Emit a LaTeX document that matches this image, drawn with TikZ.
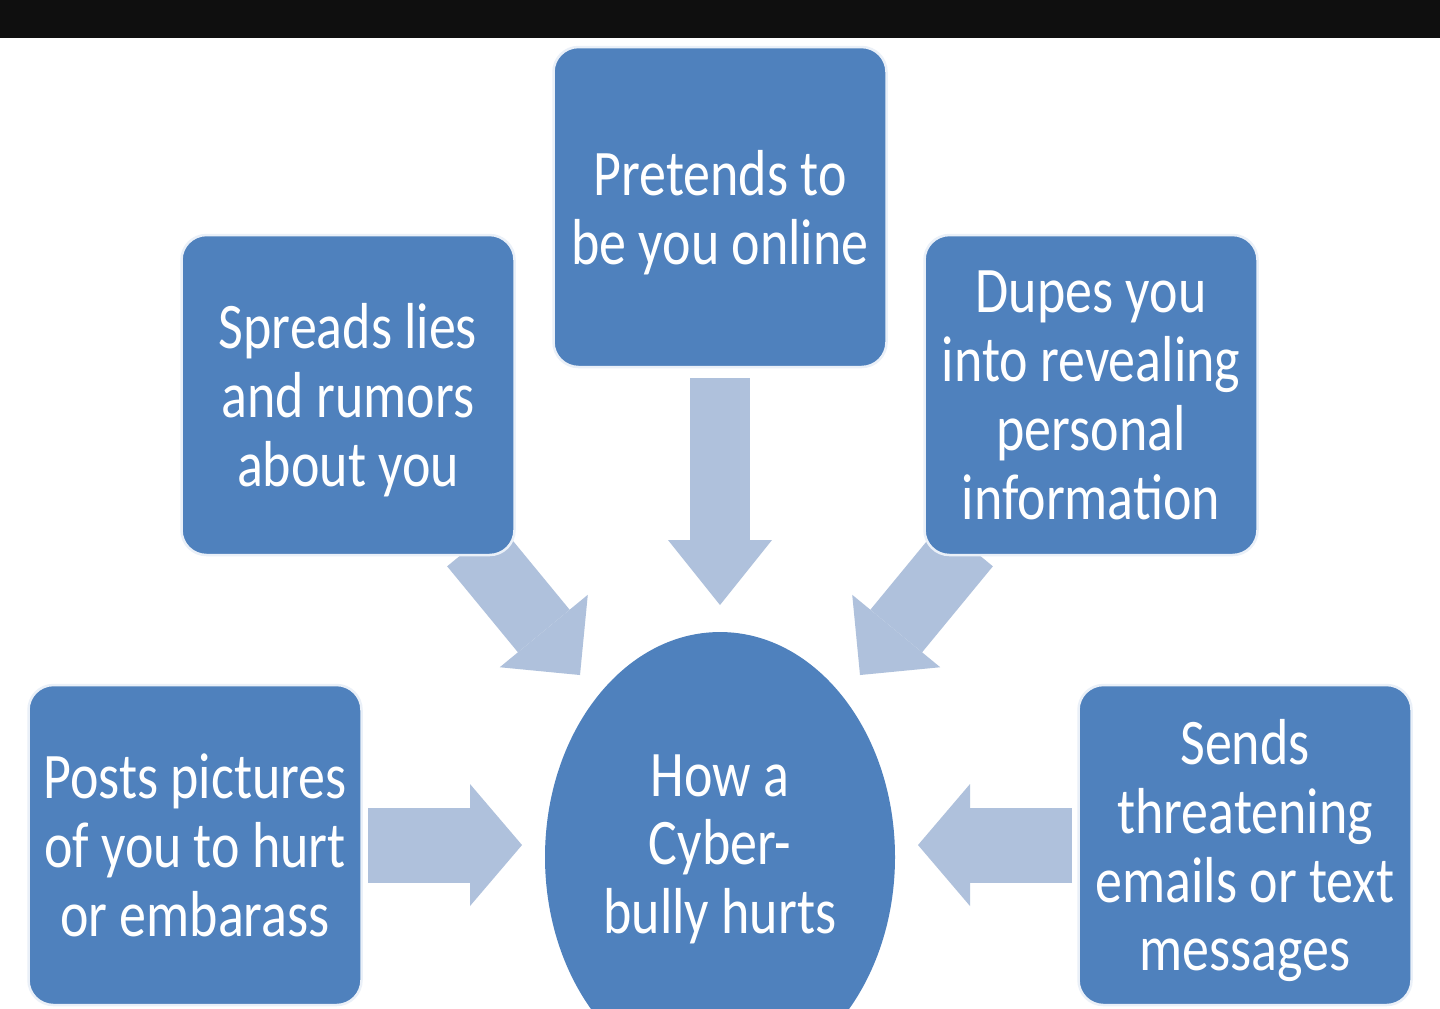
\documentclass[tikz,border=0pt]{standalone}
\usepackage{fontspec}
\setmainfont{Carlito}[FakeStretch=0.83]
\usetikzlibrary{arrows.meta, shapes.geometric}
\definecolor{boxfill}{HTML}{4F81BD}
\definecolor{boxline}{HTML}{EAF0F8}
\definecolor{arrowfill}{HTML}{AFC1DC}
\definecolor{barfill}{HTML}{0F0F0F}
\tikzset{
  hurtbox/.style = {rectangle, rounded corners=2.5mm, draw=boxline, fill=boxfill,
                    line width=0.25mm, text=white, align=center,
                    font=\fontsize{18.5}{19.6}\selectfont, text depth=0pt,
                    minimum width=33.3mm, minimum height=32mm, inner sep=0pt},
  hub/.style     = {ellipse, fill=boxfill, draw=none, text=white, align=center,
                    font=\fontsize{18.5}{19.6}\selectfont, text depth=2.6mm,
                    minimum width=35mm, minimum height=45mm, inner sep=0pt},
  pushdown/.style = {draw=arrowfill, line width=6mm,
                     -{Triangle[length=6.5mm, width=10.4mm, line width=0pt]}},
  pushside/.style = {draw=arrowfill, line width=7.5mm,
                     -{Triangle[length=5.2mm, width=12.2mm, line width=0pt]}},
  pushdiag/.style = {draw=arrowfill, line width=6.7mm,
                     -{Triangle[length=5.7mm, width=11.4mm, line width=0pt]}},
}
\begin{document}
\begin{tikzpicture}[x=0.1mm, y=-0.1mm]
  \useasboundingbox (0,0) rectangle (1440,1008);
  \clip (0,0) rectangle (1440,1008);
  \fill[white] (0,0) rectangle (1440,1008);
  \fill[barfill] (0,0) rectangle (1440,38);
  % arrow ends
  \coordinate (sT) at (720,378);   \coordinate (iT) at (720,605);
  \coordinate (sL) at (368,845);   \coordinate (iL) at (522,845);
  \coordinate (sR) at (1072,845);  \coordinate (iR) at (918,845);
  \coordinate (sUL) at (473,545);  \coordinate (iUL) at (580,675);
  \coordinate (sUR) at (967,545);  \coordinate (iUR) at (860,675);
  \draw[pushdown] (sT) -- (iT);
  \draw[pushside] (sL) -- (iL);
  \draw[pushside] (sR) -- (iR);
  \draw[pushdiag] (sUL) -- (iUL);
  \draw[pushdiag] (sUR) -- (iUR);
  % boxes
  \node[hurtbox] (pretend)  at (720,207)  {Pretends to\\be you online};
  \node[hurtbox] (rumors)   at (348,395)  {Spreads lies\\and rumors\\about you};
  \node[hurtbox] (dupes)    at (1091,395) {Dupes you\\into revealing\\personal\\information};
  \node[hurtbox] (pictures) at (195,845)  {Posts pictures\\of you to hurt\\or embarass};
  \node[hurtbox] (threats)  at (1245,845) {Sends\\threatening\\emails or text\\messages};
  \node[hub] (hurts) at (720,857) {How a\\Cyber-\\bully hurts};
\end{tikzpicture}
\end{document}
